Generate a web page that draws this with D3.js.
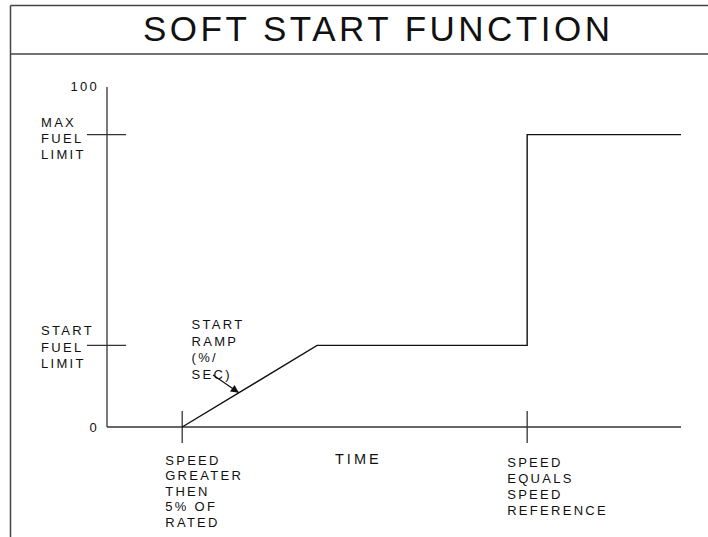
<!DOCTYPE html>
<html>
<head>
<meta charset="utf-8">
<script src="https://cdn.jsdelivr.net/npm/d3@7"></script>
<style>
  html, body { margin: 0; padding: 0; background: #fff; }
  svg { display: block; font-family: "Liberation Sans", Arial, sans-serif; }
</style>
</head>
<body>
<div id="chart"></div>
<script>
// --------------- Data ---------------
const TITLE = "SOFT START FUNCTION";
const timePts = [13.1, 36.6, 73.2, 73.2, 100];
const fuelPts = [0, 24, 24, 86, 86];
const yEndLabels = ["0", "100"];
const yEndValues = [0, 100];
const yMarkValues = [86, 24];
const yMarkLabels = [["MAX", "FUEL", "LIMIT"], ["START", "FUEL", "LIMIT"]];
const xMarkValues = [13.1, 73.2];
const xMarkLabels = [
  ["SPEED", "GREATER", "THEN", "5% OF", "RATED"],
  ["SPEED", "EQUALS", "SPEED", "REFERENCE"]
];
const xAxisTitle = "TIME";
const rampNote = ["START", "RAMP", "(%/", "SEC)"];

// --------------- Layout ---------------
const WIDTH = 708;
const HEIGHT = 537;
const INK = "#111";
const FRAME = "#444";
const LABEL_SIZE = 13;
const LABEL_SPACING = 2.3;
const LINE_GAP = 16.2;

const x = d3.scaleLinear().domain([0, 100]).range([107, 681]);
const y = d3.scaleLinear().domain([0, 100]).range([427, 87]);

const svg = d3
  .select("#chart")
  .append("svg")
  .attr("width", WIDTH)
  .attr("height", HEIGHT);

svg.append("defs")
  .append("marker")
  .attr("id", "head")
  .attr("viewBox", "0 0 10 10")
  .attr("refX", 10)
  .attr("refY", 5)
  .attr("markerWidth", 11)
  .attr("markerHeight", 8)
  .attr("markerUnits", "userSpaceOnUse")
  .attr("orient", "auto")
  .append("path")
  .attr("d", "M0,0 L10,5 L0,10 Z")
  .attr("fill", INK);

// Frame round the title
const frame = svg.append("g").attr("stroke", FRAME).attr("stroke-width", 1.5);
frame.append("line").attr("x1", 10.5).attr("x2", 10.5).attr("y1", 5.5).attr("y2", HEIGHT);
frame.append("line").attr("x1", 10.5).attr("x2", WIDTH).attr("y1", 5.5).attr("y2", 5.5);
frame.append("line").attr("x1", 10.5).attr("x2", WIDTH).attr("y1", 54).attr("y2", 54);

svg.append("text")
  .attr("x", 143)
  .attr("y", 40.5)
  .attr("font-size", 35)
  .attr("textLength", 467)
  .attr("lengthAdjust", "spacing")
  .attr("fill", INK)
  .text(TITLE);

// --------------- Axes ---------------
const axes = svg.append("g").attr("stroke", "#333").attr("stroke-width", 1.3);
axes.append("line")
  .attr("x1", x(0)).attr("x2", x(0))
  .attr("y1", y(0)).attr("y2", y(100));
axes.append("line")
  .attr("x1", x(0)).attr("x2", x(100))
  .attr("y1", y(0)).attr("y2", y(0));

// y marks: crossing ticks
axes.selectAll(".ytick")
  .data(yMarkValues)
  .enter()
  .append("line")
  .attr("x1", x(0) - 20).attr("x2", x(0) + 19)
  .attr("y1", d => y(d)).attr("y2", d => y(d));

// x marks: crossing ticks
axes.selectAll(".xtick")
  .data(xMarkValues)
  .enter()
  .append("line")
  .attr("x1", d => x(d)).attr("x2", d => x(d))
  .attr("y1", y(0) - 16).attr("y2", y(0) + 16);

const labels = svg.append("g")
  .attr("font-size", LABEL_SIZE)
  .attr("letter-spacing", LABEL_SPACING)
  .attr("fill", INK);

// end labels on the y axis
labels.selectAll(".yend")
  .data(yEndValues)
  .enter()
  .append("text")
  .attr("x", x(0) - 8)
  .attr("y", d => y(d) + (d === 0 ? 4.5 : 4))
  .attr("text-anchor", "end")
  .text((d, i) => yEndLabels[i]);

// y mark labels
yMarkValues.forEach((v, i) => {
  labels.append("text")
    .selectAll("tspan")
    .data(yMarkLabels[i])
    .enter()
    .append("tspan")
    .attr("x", 41)
    .attr("y", (d, j) => y(v) - 10 + j * LINE_GAP + (i === 0 ? 2 : 0))
    .text(d => d);
});

// x mark labels
xMarkValues.forEach((v, i) => {
  labels.append("text")
    .selectAll("tspan")
    .data(xMarkLabels[i])
    .enter()
    .append("tspan")
    .attr("x", x(v) - 17 + (i === 1 ? -3 : 0))
    .attr("y", (d, j) => y(0) + 37.5 + (i === 1 ? 2.5 : 0) + j * (i === 1 ? 16 : 15.6))
    .text(d => d);
});

svg.append("text")
  .attr("x", 335)
  .attr("y", y(0) + 37.3)
  .attr("font-size", 14.5)
  .attr("letter-spacing", 3)
  .attr("fill", INK)
  .text(xAxisTitle);

// --------------- Series ---------------
const line = d3.line()
  .x((d, i) => x(timePts[i]))
  .y(d => y(d));

svg.append("path")
  .datum(fuelPts)
  .attr("d", line)
  .attr("fill", "none")
  .attr("stroke", INK)
  .attr("stroke-width", 1.4);

// Ramp note with its arrow
labels.append("text")
  .selectAll("tspan")
  .data(rampNote)
  .enter()
  .append("tspan")
  .attr("x", 191.5)
  .attr("y", (d, j) => 329.3 + j * 16.4)
  .text(d => d);

const tip = 0.42; // fraction along the ramp where the arrow lands
const tx = x(timePts[0]) + tip * (x(timePts[1]) - x(timePts[0]));
const ty = y(fuelPts[0]) + tip * (y(fuelPts[1]) - y(fuelPts[0]));
svg.append("line")
  .attr("x1", 213).attr("y1", 375)
  .attr("x2", tx).attr("y2", ty)
  .attr("stroke", INK)
  .attr("stroke-width", 1.2)
  .attr("marker-end", "url(#head)");
</script>
</body>
</html>
